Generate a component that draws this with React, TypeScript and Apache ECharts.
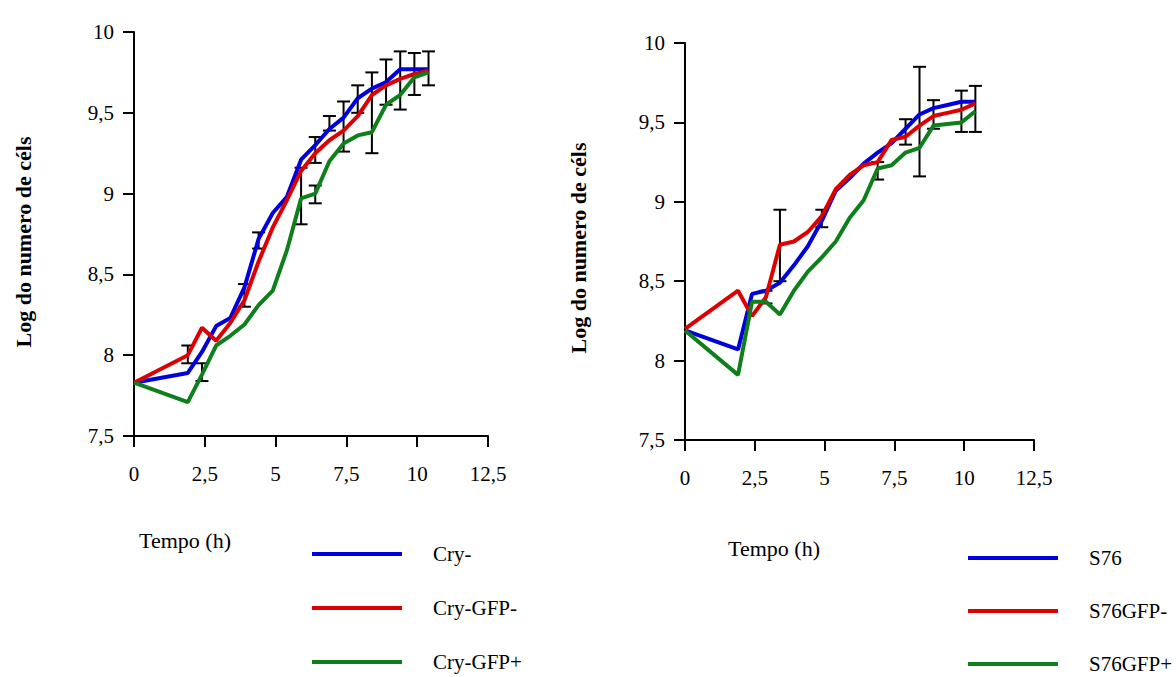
import React, { useEffect, useRef } from "react";
import * as echarts from "echarts";

// Time points (h)
const T = [0, 1.9, 2.4, 2.9, 3.4, 3.9, 4.4, 4.9, 5.4, 5.9, 6.4, 6.9, 7.4, 7.9, 8.4, 8.9, 9.4, 9.9, 10.4];

// Left chart series (log of cell number)
const cryNeg = [7.83, 7.89, 8.02, 8.18, 8.23, 8.42, 8.72, 8.88, 8.98, 9.21, 9.30, 9.40, 9.47, 9.59, 9.65, 9.69, 9.77, 9.77, 9.77];
const cryGfpNeg = [7.83, 8.0, 8.17, 8.09, 8.2, 8.34, 8.58, 8.79, 8.96, 9.14, 9.25, 9.33, 9.39, 9.48, 9.61, 9.67, 9.71, 9.74, 9.76];
const cryGfpPos = [7.83, 7.71, 7.88, 8.06, 8.12, 8.19, 8.31, 8.4, 8.65, 8.97, 9.0, 9.2, 9.31, 9.36, 9.38, 9.55, 9.61, 9.72, 9.75];

// Right chart series
const s76 = [8.19, 8.07, 8.42, 8.44, 8.49, 8.6, 8.72, 8.88, 9.07, 9.15, 9.24, 9.31, 9.37, 9.46, 9.55, 9.59, 9.61, 9.63, 9.63];
const s76GfpNeg = [8.2, 8.44, 8.28, 8.4, 8.73, 8.75, 8.81, 8.91, 9.08, 9.17, 9.23, 9.25, 9.39, 9.41, 9.48, 9.54, 9.56, 9.58, 9.62];
const s76GfpPos = [8.19, 7.91, 8.37, 8.37, 8.29, 8.44, 8.56, 8.65, 8.75, 8.9, 9.01, 9.21, 9.23, 9.31, 9.34, 9.48, 9.49, 9.5, 9.57];

// Error bars: [time, low, high]
const errLeft = [
  [1.9, 7.95, 8.06],
  [2.4, 7.84, 7.95],
  [3.9, 8.3, 8.44],
  [4.4, 8.66, 8.76],
  [5.9, 8.81, 9.16],
  [6.4, 8.94, 9.05],
  [6.4, 9.19, 9.35],
  [6.9, 9.39, 9.48],
  [7.4, 9.26, 9.57],
  [7.9, 9.5, 9.67],
  [8.4, 9.25, 9.75],
  [8.9, 9.55, 9.83],
  [9.4, 9.52, 9.88],
  [9.9, 9.61, 9.87],
  [10.4, 9.67, 9.88],
];
const errRight = [
  [2.9, 8.36, 8.44],
  [3.4, 8.5, 8.95],
  [4.9, 8.84, 8.95],
  [6.9, 9.14, 9.25],
  [7.9, 9.36, 9.52],
  [8.4, 9.16, 9.85],
  [8.9, 9.46, 9.64],
  [9.9, 9.44, 9.7],
  [10.4, 9.44, 9.73],
];

const namesLeft = ["Cry-", "Cry-GFP-", "Cry-GFP+"];
const namesRight = ["S76", "S76GFP-", "S76GFP+"];
const colors = ["#0000dd", "#dd0000", "#0f7f1c"];

const FONT = "'Liberation Serif', 'Times New Roman', serif";
const fmt = (v: number) => String(v).replace(".", ",");

export default function App() {
  const ref = useRef<HTMLDivElement>(null);
  useEffect(() => {
    if (!ref.current) return;
    const chart = echarts.init(ref.current, undefined, { renderer: "svg" });

    const axisLine = { lineStyle: { color: "#000", width: 2 } };
    const axisTick = { length: 11, lineStyle: { color: "#000", width: 2 } };
    const xAxisBase = {
      type: "value",
      min: 0,
      max: 12.5,
      interval: 2.5,
      axisLine: { onZero: false, ...axisLine },
      axisTick,
      splitLine: { show: false },
      axisLabel: { formatter: fmt, color: "#000", fontFamily: FONT, fontSize: 21, margin: 27 },
    };
    const yAxisBase = {
      type: "value",
      min: 7.5,
      max: 10,
      interval: 0.5,
      axisLine: { show: true, onZero: false, ...axisLine },
      axisTick: { show: true, ...axisTick },
      splitLine: { show: false },
      axisLabel: { formatter: fmt, color: "#000", fontFamily: FONT, fontSize: 21, margin: 20 },
    };

    const lineSeries = (names: string[], arrs: number[][], idx: number) =>
      arrs.map((arr, i) => ({
        type: "line",
        name: names[i],
        xAxisIndex: idx,
        yAxisIndex: idx,
        data: T.map((t, k) => [t, arr[k]]),
        showSymbol: false,
        symbol: "none",
        color: colors[i],
        lineStyle: { color: colors[i], width: 4 },
        z: 3,
      }));

    const errSeries = (data: number[][], idx: number) => ({
      type: "custom",
      xAxisIndex: idx,
      yAxisIndex: idx,
      data,
      encode: { x: 0, y: [1, 2] },
      z: 2,
      renderItem: (params: any, api: any) => {
        const x = api.value(0);
        const lo = api.coord([x, api.value(1)]);
        const hi = api.coord([x, api.value(2)]);
        const w = 6.5;
        const st = { stroke: "#000", lineWidth: 2 };
        return {
          type: "group",
          children: [
            { type: "line", shape: { x1: lo[0], y1: lo[1], x2: hi[0], y2: hi[1] }, style: st },
            { type: "line", shape: { x1: lo[0] - w, y1: lo[1], x2: lo[0] + w, y2: lo[1] }, style: st },
            { type: "line", shape: { x1: hi[0] - w, y1: hi[1], x2: hi[0] + w, y2: hi[1] }, style: st },
          ],
        };
      },
    });

    const legendBase = {
      orient: "vertical",
      icon: "rect",
      itemWidth: 90,
      itemHeight: 4,
      padding: 0,
      height: 200,
      selectedMode: false,
      textStyle: { fontFamily: FONT, fontSize: 21, color: "#000", lineHeight: 24, padding: [0, 0, 0, 26] },
    };

    chart.setOption({
      animation: false,
      backgroundColor: "#fff",
      grid: [
        { left: 134, top: 32, width: 354, height: 404 },
        { left: 685, top: 43, width: 349, height: 397 },
      ],
      xAxis: [
        { ...xAxisBase, gridIndex: 0 },
        { ...xAxisBase, gridIndex: 1 },
      ],
      yAxis: [
        { ...yAxisBase, gridIndex: 0 },
        { ...yAxisBase, gridIndex: 1 },
      ],
      legend: [
        { ...legendBase, itemGap: 30, data: namesLeft, left: 312, top: 542 },
        { ...legendBase, itemGap: 29, data: namesRight, left: 968, top: 546 },
      ],
      graphic: [
        {
          type: "text",
          x: 23,
          y: 242,
          rotation: Math.PI / 2,
          style: {
            text: "Log do numero de céls",
            fontFamily: FONT,
            fontWeight: "bold",
            fontSize: 22,
            fill: "#000",
            align: "center",
            verticalAlign: "middle",
          },
        },
        {
          type: "text",
          x: 578,
          y: 248,
          rotation: Math.PI / 2,
          style: {
            text: "Log do numero de céls",
            fontFamily: FONT,
            fontWeight: "bold",
            fontSize: 22,
            fill: "#000",
            align: "center",
            verticalAlign: "middle",
          },
        },
        {
          type: "text",
          x: 185,
          y: 540,
          style: { text: "Tempo (h)", fontFamily: FONT, fontSize: 22, fill: "#000", align: "center", verticalAlign: "middle" },
        },
        {
          type: "text",
          x: 774,
          y: 548,
          style: { text: "Tempo (h)", fontFamily: FONT, fontSize: 22, fill: "#000", align: "center", verticalAlign: "middle" },
        },
      ],
      series: [
        errSeries(errLeft, 0),
        errSeries(errRight, 1),
        ...lineSeries(namesLeft, [cryNeg, cryGfpNeg, cryGfpPos], 0),
        ...lineSeries(namesRight, [s76, s76GfpNeg, s76GfpPos], 1),
      ],
    });
    return () => chart.dispose();
  }, []);
  return (
    <div
      ref={ref}
      style={{ position: "fixed", left: 0, top: 0, width: 1176, height: 677, background: "#fff" }}
    />
  );
}
